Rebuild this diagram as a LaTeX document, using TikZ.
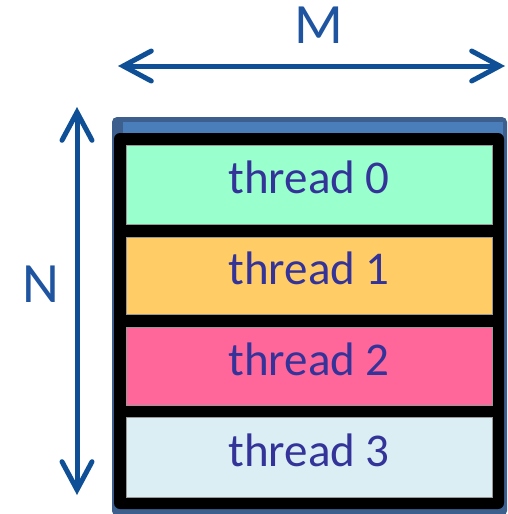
\documentclass[tikz,border=0pt]{standalone}
\usepackage{fontspec}
\setmainfont{Carlito}
\usetikzlibrary{arrows.meta}
\definecolor{arrowblue}{HTML}{0E4F95}
\definecolor{labelblue}{HTML}{1F55A0}
\definecolor{txtblue}{HTML}{333399}
\definecolor{outerblue}{HTML}{3C5F8D}
\definecolor{innerblue}{HTML}{4A7EBB}
\definecolor{cgreen}{HTML}{99FFCC}
\definecolor{corange}{HTML}{FFCC66}
\definecolor{cpink}{HTML}{FF6699}
\definecolor{clight}{HTML}{DAEEF3}
\tikzset{
  dimarrow/.style={arrowblue, line width=5pt, line cap=round,
    {Straight Barb[length=28pt,width=30pt,line cap=round]}-{Straight Barb[length=28pt,width=30pt,line cap=round]}},
  cell/.style={draw=black!40, line width=0.6pt, minimum width=366pt, inner sep=0pt,
    text height=30pt, text depth=12pt,
    font=\fontsize{47}{50}\selectfont, text=txtblue},
  dimlabel/.style={font=\fontsize{57}{60}\selectfont, text=labelblue, inner sep=0pt}
}
\begin{document}
\begin{tikzpicture}[x=1pt,y=-1pt]
\useasboundingbox (0,0) rectangle (507,514);
% container
\fill[outerblue, rounded corners=5pt] (112,117) rectangle (507,516);
\fill[innerblue] (123,122) rectangle (503,136);
\fill[black, rounded corners=6pt] (114,133) rectangle (504,509);
% cells
\node[cell, fill=cgreen, minimum height=79pt] (t0) at (309,184.5) {thread 0};
\node[cell, fill=corange, minimum height=77pt] (t1) at (309,275.5) {thread 1};
\node[cell, fill=cpink, minimum height=78pt] (t2) at (309,366) {thread 2};
\node[cell, fill=clight, minimum height=80pt] (t3) at (309,457) {thread 3};
% dimension arrows
\coordinate (ml) at (118,66);
\coordinate (mr) at (505,66);
\coordinate (nt) at (77,107);
\coordinate (nb) at (77,495);
\draw[dimarrow] (ml) -- (mr);
\draw[dimarrow] (nt) -- (nb);
\node[dimlabel, anchor=base] (M) at (319,43) {M};
\node[dimlabel, anchor=base] (N) at (41,302) {N};
\end{tikzpicture}
\end{document}
